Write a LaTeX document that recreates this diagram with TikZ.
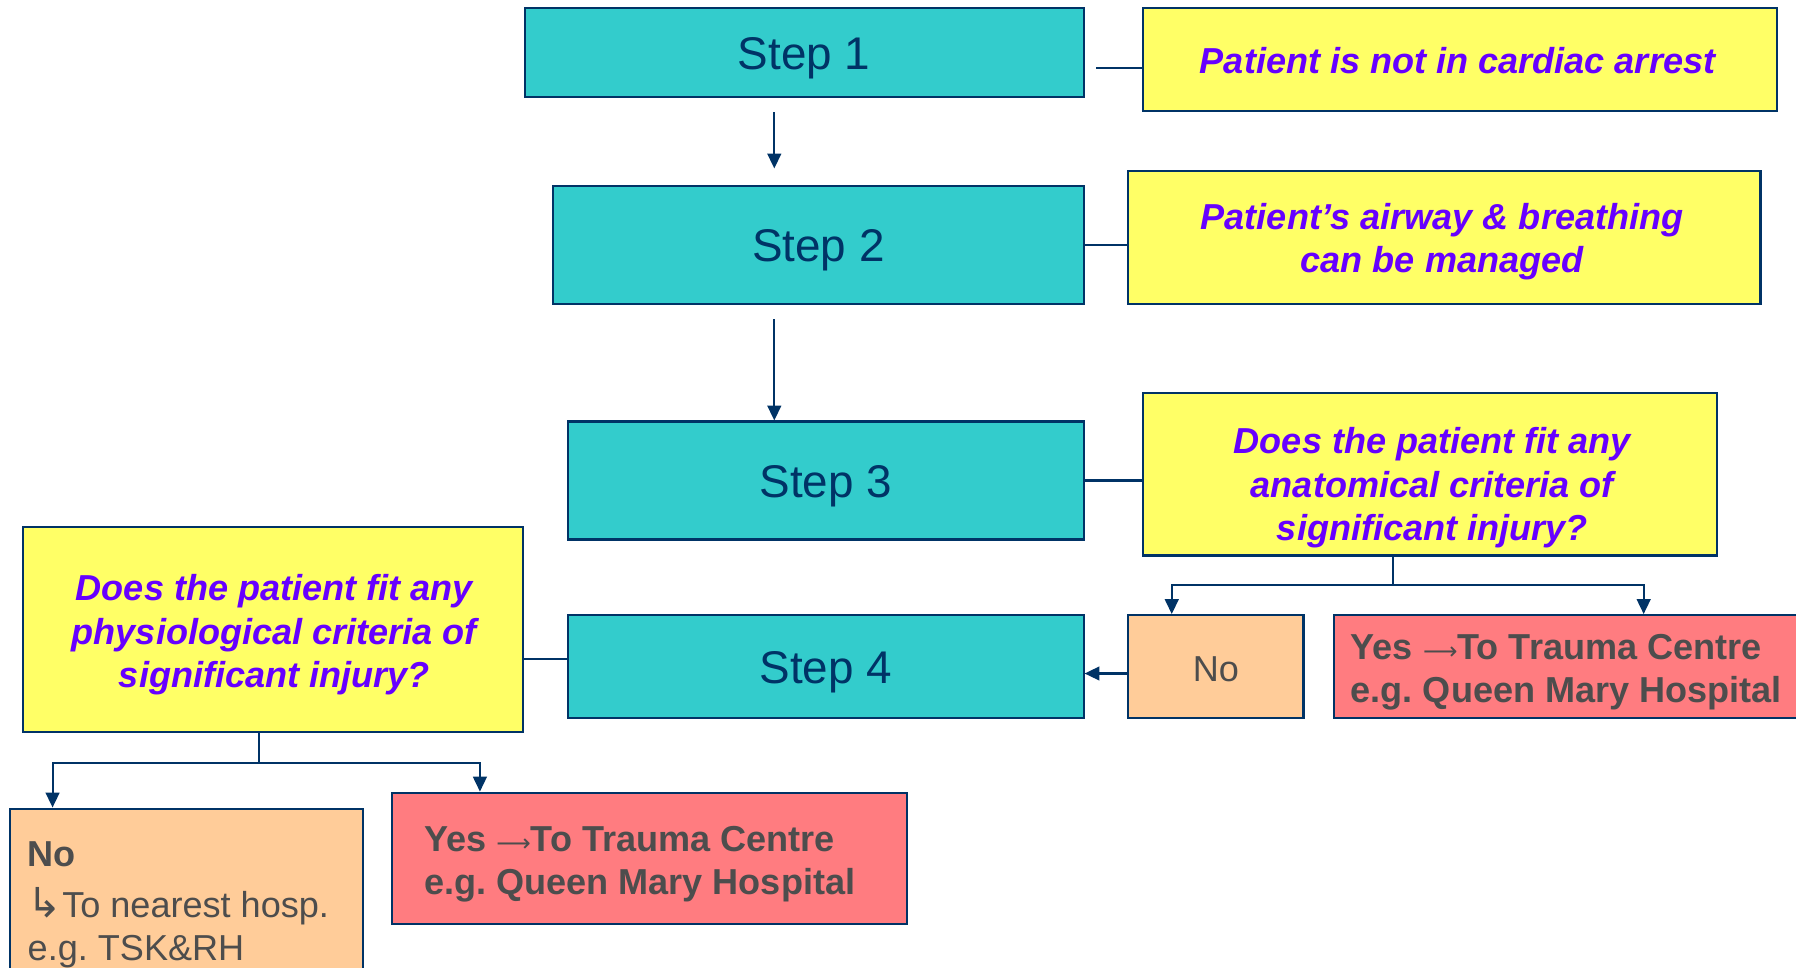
\documentclass[tikz,border=0pt]{standalone}
\usepackage{fontspec}
\setmainfont{Liberation Sans}
\newfontfamily\symfont{DejaVu Sans}
\usetikzlibrary{arrows.meta,calc}
\frenchspacing
\definecolor{teal}{HTML}{33CCCC}
\definecolor{qyellow}{HTML}{FFFF66}
\definecolor{qpurple}{HTML}{6600FF}
\definecolor{peach}{HTML}{FFCC99}
\definecolor{salmon}{HTML}{FF7C80}
\definecolor{navy}{HTML}{003366}
\definecolor{greytext}{HTML}{4D4D4D}
\newcommand{\thinarrow}{{\symfont\fontseries{m}\fontsize{21}{38}\selectfont⟶}}
\tikzset{
  box/.style={draw=navy, line width=1.8pt, inner sep=0pt},
  stepbox/.style={box, fill=teal},
  steptext/.style={text=navy, inner sep=0pt, font=\fontsize{40}{46}\selectfont},
  question/.style={box, fill=qyellow},
  qtext/.style={text=qpurple, align=center, inner sep=0pt,
    font=\fontsize{31.5}{38}\selectfont\bfseries\itshape},
  nobox/.style={box, fill=peach},
  yesbox/.style={box, fill=salmon},
  otext/.style={text=greytext, inner sep=0pt, align=left,
    font=\fontsize{31.5}{38}\selectfont},
  conn/.style={draw=navy, line width=1.8pt},
  arrow/.style={conn, -{Triangle[length=13pt,width=12pt]}},
}
\begin{document}
\begin{tikzpicture}[x=1pt,y=-1pt]
\clip (0,0) rectangle (1568,845);
\fill[white] (0,0) rectangle (1568,845);

% steps
\node[stepbox, minimum width=488, minimum height=78] (s1) at (702,46) {};
\node[stepbox, minimum width=463, minimum height=103] (s2) at (714.5,213.5) {};
\node[stepbox, minimum width=450, minimum height=103] (s3) at (721,419.5) {};
\node[stepbox, minimum width=450, minimum height=90] (s4) at (721,582) {};
\node[steptext] (s1t) at ($(s1)+(0,5)$) {Step 1};
\node[steptext] (s2t) at ($(s2)+(0,5)$) {Step 2};
\node[steptext] (s3t) at ($(s3)+(0,5)$) {Step 3};
\node[steptext] (s4t) at ($(s4)+(0,5)$) {Step 4};

% conditions
\node[question, minimum width=553, minimum height=90] (y1) at (1274.5,52) {};
\node[question, minimum width=552, minimum height=116] (y2) at (1261,207) {};
\node[question, minimum width=501, minimum height=142] (y3) at (1248.5,414) {};
\node[question, minimum width=437, minimum height=179] (y4) at (238.5,549.5) {};
\node[qtext] (y1t) at ($(y1)+(-2,1)$) {Patient is not in cardiac arrest};
\node[qtext] (y2t) at ($(y2)+(-2,4)$) {Patient’s airway \& breathing\\can be managed};
\node[qtext] (y3t) at ($(y3)+(2,12)$)
  {Does the patient fit any\\anatomical criteria of\\significant injury?};
\node[qtext] (y4t) at ($(y4)+(1,5)$)
  {Does the patient fit any\\physiological criteria of\\significant injury?};

% outcomes
\node[nobox, minimum width=153, minimum height=90] (noR) at (1061.5,582) {};
\node[yesbox, minimum width=405, minimum height=90] (yesR) at (1367.5,582) {};
\node[yesbox, minimum width=450, minimum height=115] (yesL) at (567,749.5) {};
\node[nobox, anchor=north west, minimum width=308, minimum height=168] (noL) at (8,705) {};
\node[otext] (noRt) at ($(noR)+(0,2)$) {No};
\node[otext, font=\fontsize{31.5}{38}\selectfont\bfseries] (yesRt) at ($(yesR)+(0,5)$)
  {Yes \thinarrow To Trauma Centre\\e.g. Queen Mary Hospital};
\node[otext, font=\fontsize{31.5}{38}\selectfont\bfseries, anchor=west] (yesLt)
  at ($(yesL.west)+(29,5)$)
  {Yes \thinarrow To Trauma Centre\\e.g. Queen Mary Hospital};
\node[otext, anchor=north west] (noLt) at ($(noL.north west)+(16,30)$)
  {\textbf{No}\\[6pt]{\symfont\fontsize{36}{38}\selectfont ↳}To nearest hosp.\\e.g. TSK\&RH};

% step-to-condition links
\draw[conn] ([yshift=-7pt]y1.west) -- ++(-40,0);
\draw[conn] (s2.east) -- (s2.east -| y2.west);
\draw[conn] (s3.east) -- (s3.east -| y3.west);
\draw[conn] ([yshift=7pt]s4.west) -- ([yshift=7pt]s4.west -| y4.east);

% flow between steps
\coordinate (axis) at (676,0);
\draw[arrow] ($(s1.south -| axis)+(0,12)$) -- ($(s2.north -| axis)+(0,-14)$);
\draw[arrow] ($(s2.south -| axis)+(0,13)$) -- (s3.north -| axis);
\draw[arrow] ([yshift=-6pt]noR.west) -- ([yshift=-6pt]noR.west -| s4.east);

% anatomical criteria branch
\coordinate (b3) at (1216,511);
\draw[conn] (y3.south -| b3) -- (b3);
\draw[arrow] (b3) -| ($(noR.north)+(-38.5,0)$);
\draw[arrow] (b3) -| ($(yesR.north)+(67.5,0)$);

% physiological criteria branch
\coordinate (b4) at (226,666);
\draw[conn] (y4.south -| b4) -- (b4);
\draw[arrow] (b4) -| ($(noL.north)+(-117,0)$);
\draw[arrow] (b4) -| ($(yesL.north)+(-148,0)$);
\end{tikzpicture}
\end{document}
